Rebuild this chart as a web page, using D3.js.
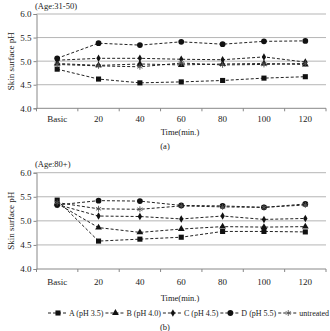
<!DOCTYPE html>
<html>
<head>
<meta charset="utf-8">
<script src="https://cdn.jsdelivr.net/npm/d3@7"></script>
<style>
  body { margin: 0; background: #fff; }
  svg { display: block; font-family: "Liberation Serif", serif; }
</style>
</head>
<body>
<div id="chart"></div>
<script>
const width = 330;
const height = 331;

const categories = ["Basic", "20", "40", "60", "80", "100", "120"];
const yTicks = [4.0, 4.5, 5.0, 5.5, 6.0];
const seriesNames = ["A (pH 3.5)", "B (pH 4.0)", "C (pH 4.5)", "D (pH 5.5)", "untreated"];

// (a) Age 31-50
const topA = [4.83, 4.62, 4.54, 4.56, 4.59, 4.64, 4.67];
const topB = [4.95, 4.91, 4.94, 4.92, 4.94, 4.95, 4.93];
const topC = [5.02, 5.06, 5.06, 5.04, 5.03, 5.09, 4.98];
const topD = [5.06, 5.38, 5.34, 5.41, 5.36, 5.42, 5.43];
const topU = [4.93, 4.90, 4.88, 4.96, 4.92, 4.93, 4.95];

// (b) Age 80+
const botA = [5.43, 4.58, 4.62, 4.66, 4.78, 4.78, 4.77];
const botB = [5.36, 4.86, 4.76, 4.83, 4.88, 4.87, 4.88];
const botC = [5.34, 5.10, 5.09, 5.04, 5.10, 5.03, 5.05];
const botD = [5.33, 5.42, 5.41, 5.32, 5.31, 5.28, 5.35];
const botU = [5.38, 5.25, 5.24, 5.31, 5.29, 5.28, 5.33];

const symbols = [d3.symbolSquare, d3.symbolTriangle, d3.symbolDiamond, d3.symbolCircle, d3.symbolAsterisk];
const symSizes = [26, 20, 16, 26, 24];

const svg = d3.select("#chart")
    .append("svg")
    .attr("width", width)
    .attr("height", height)
    .attr("viewBox", [0, 0, width, height]);

const x = d3.scaleBand()
    .domain(categories)
    .range([36.5, 326]);

const drawMarker = (g, i, cx, cy) => {
    const path = d3.symbol().type(symbols[i]).size(symSizes[i])();
    const m = g.append("path")
        .attr("d", path)
        .attr("transform", `translate(${cx},${cy})`);
    if (i === 4) m.attr("fill", "none").attr("stroke", "#555").attr("stroke-width", 0.9);
    else m.attr("fill", "#111");
};

const drawPanel = (top, bottom, series, title, letter, titleY, tickY, timeY, letterY) => {
    const y = d3.scaleLinear().domain([4, 6]).range([bottom, top]);
    const g = svg.append("g");

    // gridlines
    g.append("g")
        .selectAll("line")
        .data(yTicks.slice(1))
        .join("line")
        .attr("x1", x.range()[0])
        .attr("x2", x.range()[1])
        .attr("y1", d => y(d))
        .attr("y2", d => y(d))
        .attr("stroke", "#b5b5b5")
        .attr("stroke-width", 1);

    // y axis
    g.append("g")
        .attr("transform", `translate(${x.range()[0]},0)`)
        .call(d3.axisLeft(y).tickValues(yTicks).tickFormat(d3.format(".1f")).tickSize(3).tickPadding(2))
        .call(a => a.selectAll("line,path").attr("stroke", "#888"))
        .call(a => a.selectAll("text").attr("font-size", 9).attr("font-family", "Liberation Serif").attr("fill", "#222"));

    // x axis baseline and ticks at band edges
    g.append("line")
        .attr("x1", x.range()[0]).attr("x2", x.range()[1])
        .attr("y1", bottom).attr("y2", bottom)
        .attr("stroke", "#888");
    g.append("g")
        .selectAll("line")
        .data(categories.map(c => x(c)).concat([x.range()[1]]))
        .join("line")
        .attr("x1", d => d).attr("x2", d => d)
        .attr("y1", bottom).attr("y2", bottom + 3)
        .attr("stroke", "#888");
    g.append("g")
        .selectAll("text")
        .data(categories)
        .join("text")
        .attr("x", d => x(d) + x.bandwidth() / 2)
        .attr("y", tickY)
        .attr("text-anchor", "middle")
        .attr("font-size", 9)
        .attr("fill", "#222")
        .text(d => d);

    // lines
    series.forEach((vals, i) => {
        const pts = vals.map((v, j) => [x(categories[j]) + x.bandwidth() / 2, y(v)]);
        g.append("path")
            .attr("d", d3.line()(pts))
            .attr("fill", "none")
            .attr("stroke", "#222")
            .attr("stroke-width", 1)
            .attr("stroke-dasharray", "3,2");
    });
    series.forEach((vals, i) => {
        vals.forEach((v, j) => drawMarker(g, i, x(categories[j]) + x.bandwidth() / 2, y(v)));
    });

    // texts
    g.append("text")
        .attr("x", 35).attr("y", titleY)
        .attr("font-size", 8.5).attr("fill", "#222")
        .text(title);
    g.append("text")
        .attr("transform", `translate(14,${(top + bottom) / 2}) rotate(-90)`)
        .attr("text-anchor", "middle")
        .attr("font-size", 9).attr("fill", "#222")
        .text("Skin surface pH");
    g.append("text")
        .attr("x", 180).attr("y", timeY)
        .attr("text-anchor", "middle")
        .attr("font-size", 8.5).attr("fill", "#222")
        .text("Time(min.)");
    g.append("text")
        .attr("x", 165).attr("y", letterY)
        .attr("text-anchor", "middle")
        .attr("font-size", 8.5).attr("fill", "#222")
        .text(letter);
};

drawPanel(14, 108.3, [topA, topB, topC, topD, topU], "(Age:31-50)", "(a)", 8.5, 121.5, 135, 149);
drawPanel(172.7, 269, [botA, botB, botC, botD, botU], "(Age:80+)", "(b)", 167, 284.5, 300.5, 329.5);

// legend
const legend = svg.append("g").attr("font-size", 8).attr("fill", "#222");
let lx = 48;
const ly = 313;
seriesNames.forEach((name, i) => {
    legend.append("line")
        .attr("x1", lx).attr("x2", lx + 20)
        .attr("y1", ly).attr("y2", ly)
        .attr("stroke", "#222").attr("stroke-dasharray", "3,2");
    drawMarker(legend, i, lx + 10, ly);
    const t = legend.append("text")
        .attr("x", lx + 21).attr("y", ly + 2.8)
        .text(name);
    lx += 21 + t.node().getComputedTextLength() + 2;
});
</script>
</body>
</html>
